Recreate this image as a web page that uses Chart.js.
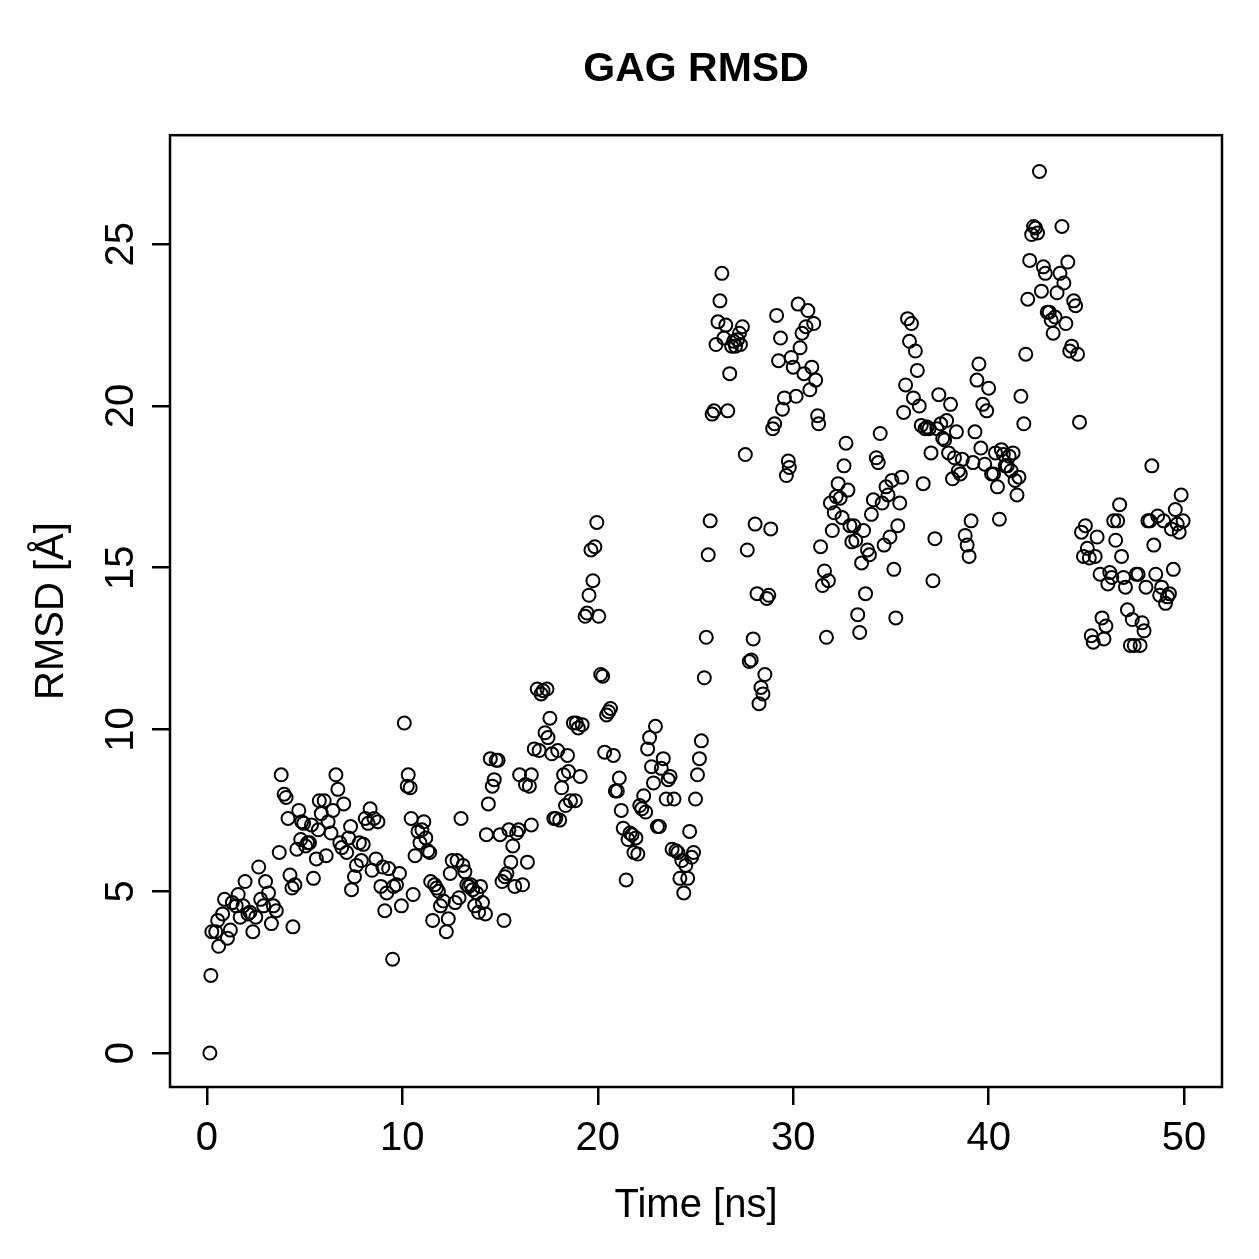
<!DOCTYPE html>
<html>
<head>
<meta charset="utf-8">
<script src="https://cdn.jsdelivr.net/npm/chart.js@4"></script>
<style>
  body { margin: 0; background: #fff; }
  #wrap { width: 1259px; height: 1259px; }
</style>
</head>
<body>
<div id="wrap"><canvas id="rmsd"></canvas></div>
<script>
// time (ns) and GAG RMSD (Å)
var time = [
  0.15, 0.2, 0.25, 0.45, 0.6, 0.55, 0.8, 0.9, 1.05, 1.2, 1.3, 1.5, 1.6, 1.7, 1.85, 1.95, 2.1, 2.2, 2.35, 2.5,
  2.65, 2.75, 2.9, 3.0, 3.15, 3.3, 3.4, 3.55, 3.7, 3.8, 3.95, 4.05, 4.15, 4.25, 4.35, 4.4, 4.5, 4.6, 4.7, 4.8,
  4.85, 4.95, 5.05, 5.15, 5.25, 5.35, 5.45, 5.6, 5.7, 5.75, 5.85, 6.0, 6.1, 6.2, 6.35, 6.45, 6.6, 6.7, 6.8, 6.9,
  7.0, 7.15, 7.25, 7.35, 7.4, 7.55, 7.65, 7.8, 7.9, 8.0, 8.1, 8.25, 8.35, 8.45, 8.55, 8.65, 8.75, 8.9, 9.0, 9.1,
  9.2, 9.3, 9.5, 9.55, 9.7, 9.85, 9.95, 10.1, 10.25, 10.3, 10.4, 10.45, 10.55, 10.65, 10.8, 10.9, 11.0, 11.1, 11.2, 11.3,
  11.4, 11.45, 11.55, 11.65, 11.75, 11.85, 11.95, 12.1, 12.25, 12.35, 12.45, 12.55, 12.7, 12.8, 12.9, 13.0, 13.1, 13.2, 13.3, 13.4,
  13.5, 13.6, 13.7, 13.8, 13.9, 14.0, 14.1, 14.25, 14.3, 14.4, 14.5, 14.6, 14.7, 14.8, 14.9, 15.0, 15.1, 15.2, 15.25, 15.35,
  15.45, 15.55, 15.65, 15.75, 15.85, 15.95, 16.0, 16.15, 16.3, 16.4, 16.5, 16.6, 16.6, 16.75, 16.9, 17.0, 17.1, 17.2, 17.3, 17.4,
  17.45, 17.55, 17.65, 17.75, 17.85, 17.95, 18.05, 18.15, 18.25, 18.35, 18.45, 18.5, 18.6, 18.75, 18.85, 18.9, 19.0, 19.1, 19.2, 19.35,
  19.45, 19.55, 19.65, 19.75, 19.85, 19.95, 20.05, 20.15, 20.25, 20.35, 20.45, 20.55, 20.65, 20.8, 20.9, 21.0, 21.1, 21.2, 21.3, 21.45,
  21.55, 21.65, 21.75, 21.85, 21.95, 22.05, 22.15, 22.25, 22.35, 22.45, 22.55, 22.65, 22.75, 22.85, 22.95, 23.05, 23.15, 23.25, 23.35, 23.5,
  23.6, 23.7, 23.8, 23.9, 24.0, 24.1, 24.2, 24.3, 24.4, 24.5, 24.6, 24.7, 24.8, 24.9, 25.0, 25.1, 25.2, 25.3, 25.45, 25.55,
  25.65, 25.75, 25.85, 25.95, 26.05, 26.15, 26.25, 26.35, 26.45, 26.55, 26.65, 26.75, 26.85, 26.95, 27.05, 27.15, 27.25, 27.3, 27.4, 27.55,
  27.65, 27.75, 27.85, 27.95, 28.05, 28.15, 28.25, 28.35, 28.45, 28.55, 28.65, 28.75, 28.85, 28.95, 29.05, 29.15, 29.25, 29.35, 29.45, 29.55,
  29.65, 29.75, 29.8, 29.9, 30.0, 30.15, 30.25, 30.35, 30.45, 30.55, 30.65, 30.75, 30.85, 30.95, 31.05, 31.15, 31.25, 31.3, 31.4, 31.5,
  31.6, 31.7, 31.8, 31.9, 32.0, 32.1, 32.2, 32.3, 32.4, 32.5, 32.6, 32.7, 32.8, 32.9, 33.0, 33.1, 33.2, 33.3, 33.4, 33.5,
  33.6, 33.7, 33.8, 33.9, 34.0, 34.1, 34.25, 34.35, 34.45, 34.55, 34.65, 34.75, 34.85, 34.95, 35.05, 35.15, 35.25, 35.35, 35.45, 35.55,
  35.65, 35.75, 35.85, 35.95, 36.05, 36.15, 36.25, 36.35, 36.45, 36.55, 36.65, 36.75, 36.85, 36.95, 37.05, 37.15, 37.25, 37.35, 37.45, 37.55,
  37.65, 37.75, 37.85, 37.95, 38.05, 38.15, 38.25, 38.35, 38.45, 38.55, 38.65, 38.8, 38.9, 39.0, 39.1, 39.2, 39.3, 39.4, 39.5, 39.6,
  39.7, 39.8, 39.9, 40.0, 40.15, 40.25, 40.35, 40.45, 40.55, 40.65, 40.75, 40.85, 40.95, 41.05, 41.15, 41.25, 41.35, 41.45, 41.55, 41.65,
  41.8, 41.9, 42.0, 42.1, 42.2, 42.3, 42.4, 42.5, 42.6, 42.7, 42.8, 42.9, 43.0, 43.1, 43.2, 43.3, 43.4, 43.5, 43.65, 43.75,
  43.85, 43.95, 44.05, 44.15, 44.25, 44.35, 44.45, 44.55, 44.65, 44.75, 44.85, 44.95, 45.05, 45.15, 45.25, 45.35, 45.45, 45.55, 45.7, 45.8,
  45.9, 46.0, 46.1, 46.2, 46.3, 46.4, 46.5, 46.6, 46.7, 46.8, 46.9, 47.0, 47.1, 47.25, 47.35, 47.45, 47.55, 47.65, 47.75, 47.85,
  47.95, 48.05, 48.15, 48.25, 48.35, 48.45, 48.55, 48.65, 48.75, 48.85, 48.95, 49.05, 49.15, 49.25, 49.35, 49.45, 49.55, 49.65, 49.75, 49.85,
  49.95
];
var rmsd = [
  0.0, 2.4, 3.75, 3.75, 3.3, 4.1, 4.3, 4.75, 3.55, 3.8, 4.65, 4.55, 4.9, 4.2, 4.55, 5.3, 4.3, 4.35, 3.75, 4.2,
  5.75, 4.75, 4.55, 5.3, 4.95, 4.0, 4.55, 4.4, 6.2, 8.6, 8.0, 7.9, 7.25, 5.5, 5.1, 3.9, 5.2, 6.3, 7.5, 6.6,
  7.15, 7.1, 6.4, 6.5, 6.5, 7.05, 5.4, 6.0, 6.9, 7.8, 7.4, 7.8, 6.1, 7.15, 6.8, 7.5, 8.6, 8.15, 6.5, 6.35,
  7.7, 6.2, 6.65, 7.0, 5.05, 5.45, 5.8, 6.5, 5.95, 6.45, 7.25, 7.1, 7.55, 5.65, 7.25, 6.0, 7.15, 5.15, 5.75, 4.4,
  4.95, 5.7, 2.9, 5.15, 5.2, 5.55, 4.55, 10.2, 8.25, 8.6, 8.2, 7.25, 4.9, 6.1, 6.85, 6.5, 6.9, 7.15, 6.65, 6.25,
  6.2, 5.3, 4.1, 5.2, 5.1, 5.0, 4.55, 4.7, 3.75, 4.15, 5.55, 5.95, 4.65, 5.95, 4.8, 7.25, 5.8, 5.6, 5.2, 5.15,
  5.2, 5.05, 4.55, 4.95, 4.35, 5.15, 4.65, 4.3, 6.75, 7.7, 9.1, 8.25, 8.45, 9.05, 9.05, 6.75, 5.3, 4.1, 5.45, 5.55,
  6.9, 5.9, 6.4, 5.15, 6.8, 6.9, 8.6, 5.2, 8.3, 5.9, 8.25, 8.6, 7.05, 9.4, 11.25, 9.35, 11.1, 11.2, 9.9, 11.25,
  9.75, 10.35, 9.25, 7.25, 7.25, 9.35, 7.2, 8.2, 8.6, 7.65, 9.2, 8.7, 7.8, 10.2, 7.8, 10.2, 10.05, 8.55, 10.15, 13.5,
  13.6, 14.15, 15.55, 14.6, 15.65, 16.4, 13.5, 11.7, 11.65, 9.3, 10.45, 10.55, 10.65, 9.2, 8.1, 8.1, 8.5, 7.5, 6.95, 5.35,
  6.6, 6.8, 6.75, 6.2, 6.65, 6.15, 7.65, 7.55, 7.95, 7.45, 9.4, 9.75, 8.85, 8.35, 10.1, 7.0, 7.0, 8.8, 9.1, 7.85,
  8.45, 8.55, 6.3, 7.85, 6.25, 6.2, 5.4, 5.95, 4.95, 5.8, 5.4, 6.85, 6.05, 6.2, 7.85, 8.6, 9.1, 9.65, 11.6, 12.85,
  15.4, 16.45, 19.75, 19.85, 21.9, 22.6, 23.25, 24.1, 22.1, 22.5, 19.85, 21.0, 21.85, 22.0, 21.85, 22.05, 22.25, 21.9, 22.45, 18.5,
  15.55, 12.1, 12.15, 12.8, 16.35, 14.2, 10.8, 11.3, 11.1, 11.7, 14.05, 14.15, 16.2, 19.3, 19.45, 22.8, 21.4, 22.1, 19.9, 20.25,
  17.85, 18.3, 18.1, 21.5, 21.2, 20.3, 23.15, 21.8, 22.25, 21.0, 22.45, 22.95, 20.5, 21.2, 22.55, 20.8, 19.7, 19.45, 15.65, 14.45,
  14.9, 12.85, 14.6, 17.0, 16.15, 16.7, 17.2, 17.6, 17.15, 16.55, 18.15, 18.85, 17.4, 16.3, 15.8, 16.3, 15.85, 13.55, 13.0, 15.15,
  16.15, 14.2, 15.55, 15.4, 16.65, 17.1, 18.4, 18.25, 19.15, 17.0, 15.7, 17.5, 17.25, 15.95, 17.7, 14.95, 13.45, 16.3, 17.0, 17.8,
  19.8, 20.65, 22.7, 22.0, 22.55, 20.25, 21.7, 21.1, 20.0, 19.4, 17.6, 19.3, 19.35, 19.3, 18.55, 14.6, 15.9, 19.3, 20.35, 19.45,
  19.0, 18.95, 19.55, 18.55, 20.05, 17.75, 18.4, 19.2, 18.0, 17.9, 18.35, 16.0, 15.7, 15.35, 16.45, 18.25, 19.2, 20.8, 21.3, 18.7,
  20.05, 18.2, 19.85, 20.55, 17.9, 17.9, 18.55, 17.5, 16.5, 18.65, 18.5, 18.15, 18.15, 18.45, 18.0, 18.55, 17.7, 17.25, 17.8, 20.3,
  19.45, 21.6, 23.3, 24.5, 25.3, 25.55, 25.5, 25.35, 27.25, 23.55, 24.3, 24.1, 22.9, 22.9, 22.65, 22.25, 22.75, 23.5, 24.1, 25.55,
  23.8, 22.55, 24.45, 21.7, 21.85, 23.25, 23.1, 21.6, 19.5, 16.1, 15.35, 16.3, 15.6, 15.3, 12.9, 12.7, 15.35, 15.95, 14.8, 13.45,
  12.8, 13.2, 14.5, 14.85, 14.7, 16.45, 15.85, 16.45, 16.95, 15.35, 14.7, 14.4, 13.7, 12.6, 13.4, 12.6, 14.8, 14.8, 12.6, 13.3,
  13.05, 14.4, 16.45, 16.45, 18.15, 15.7, 14.8, 16.6, 14.15, 14.4, 16.45, 13.9, 14.1, 14.2, 16.2, 14.95, 16.8, 16.35, 16.1, 17.25,
  16.45
];
var xTicks = [0, 10, 20, 30, 40, 50];
var yTicks = [0, 5, 10, 15, 20, 25];

var FONT = "'Liberation Sans', Arial, Helvetica, sans-serif";

var points = time.map(function (t, i) { return { x: t, y: rmsd[i] }; });

// box around the plot region + rotated y tick labels, R style
var rBox = {
  id: 'rBox',
  afterDraw: function (chart) {
    var ctx = chart.ctx, a = chart.chartArea, ys = chart.scales.y;
    ctx.save();
    ctx.strokeStyle = '#000';
    ctx.lineWidth = 2.5;
    ctx.strokeRect(a.left, a.top, a.right - a.left, a.bottom - a.top);
    ctx.fillStyle = '#000';
    ctx.font = '40px ' + FONT;
    ctx.textAlign = 'center';
    ctx.textBaseline = 'middle';
    ys.ticks.forEach(function (tk) {
      ctx.save();
      ctx.translate(122, ys.getPixelForValue(tk.value));
      ctx.rotate(-Math.PI / 2);
      ctx.fillText(String(tk.value), 0, 0);
      ctx.restore();
    });
    ctx.restore();
  }
};

var chart = new Chart(document.getElementById('rmsd'), {
  type: 'scatter',
  data: {
    datasets: [{
      label: 'RMSD',
      data: points,
      pointStyle: 'circle',
      pointRadius: 6.5,
      pointBorderWidth: 2,
      borderColor: '#000',
      backgroundColor: 'rgba(0,0,0,0)'
    }]
  },
  options: {
    responsive: true,
    maintainAspectRatio: false,
    animation: false,
    layout: { padding: { left: 0, right: 37, top: 0, bottom: 0 } },
    scales: {
      x: {
        type: 'linear',
        min: -1.89,
        max: 51.94,
        afterBuildTicks: function (s) { s.ticks = xTicks.map(function (v) { return { value: v }; }); },
        afterFit: function (s) { s.height = 172; },
        border: { display: false },
        grid: { drawOnChartArea: false, drawTicks: true, tickLength: 18, color: '#000', lineWidth: 2.5 },
        ticks: { color: '#000', font: { family: FONT, size: 40 }, padding: 10, maxRotation: 0 },
        title: { display: true, text: 'Time [ns]', color: '#000', font: { family: FONT, size: 40 }, padding: { top: 0, bottom: 29 } }
      },
      y: {
        type: 'linear',
        min: -1.05,
        max: 28.37,
        afterBuildTicks: function (s) { s.ticks = yTicks.map(function (v) { return { value: v }; }); },
        afterFit: function (s) { s.width = 170; },
        border: { display: false },
        grid: { drawOnChartArea: false, drawTicks: true, tickLength: 18, color: '#000', lineWidth: 2.5 },
        ticks: { display: false },
        title: { display: true, text: 'RMSD [Å]', color: '#000', font: { family: FONT, size: 40 }, padding: { top: 28, bottom: 0 } }
      }
    },
    plugins: {
      legend: { display: false },
      tooltip: { enabled: false },
      title: {
        display: true,
        text: 'GAG RMSD',
        fullSize: false,
        color: '#000',
        font: { family: FONT, size: 41, weight: 'bold' },
        padding: { top: 45, bottom: 41 }
      }
    }
  },
  plugins: [rBox]
});
</script>
</body>
</html>
